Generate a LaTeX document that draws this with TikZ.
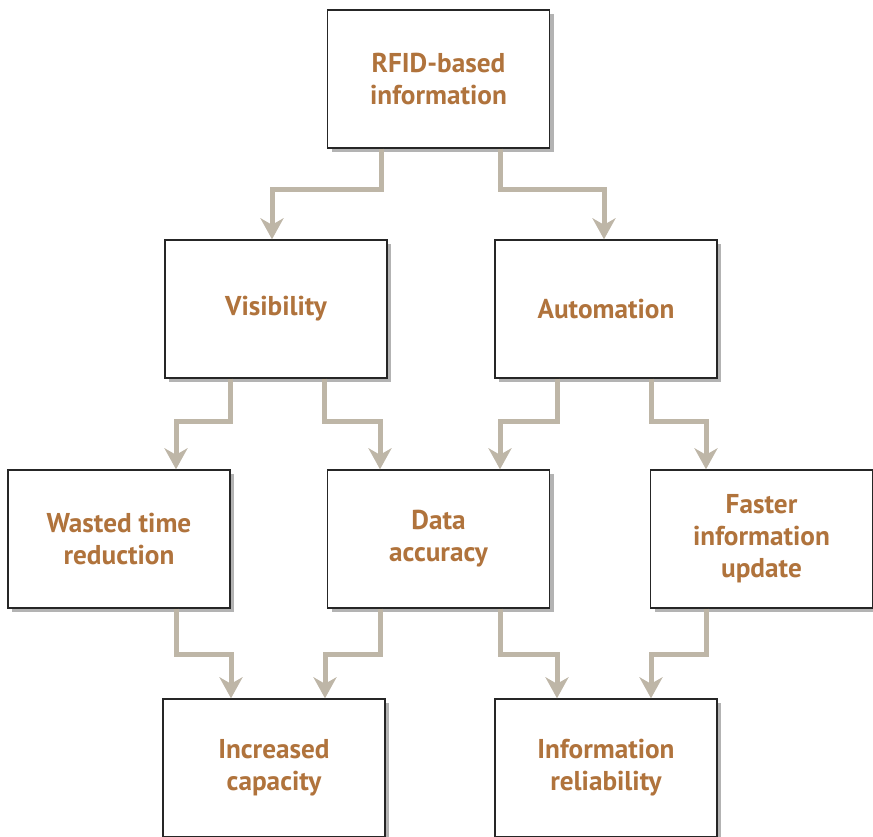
\documentclass[tikz,border=0pt]{standalone}
\usepackage{fontspec}
\setmainfont{PT Sans}
\usetikzlibrary{arrows.meta,shadows,calc}
\definecolor{txtbrown}{RGB}{176,115,60}
\definecolor{linkgray}{RGB}{190,182,167}
\begin{document}
\begin{tikzpicture}[x=0.02cm,y=-0.02cm,
	box/.style={rectangle,draw=black!85,line width=0.8pt,fill=white,minimum width=4.44cm,minimum height=2.76cm,inner sep=0pt,align=center,text=txtbrown,font=\fontsize{15.5}{18.3}\selectfont\bfseries,drop shadow={shadow xshift=2.5pt,shadow yshift=-2.5pt,opacity=0.6}},
	link/.style={draw=linkgray,line width=0.1cm,-{Stealth[length=0.42cm,width=0.46cm,inset=0.13cm]}}]
	\useasboundingbox (0,0) rectangle (873,837);
	\node[box] (rfid) at (438.5,79) {RFID-based\\information};
	\node[box] (vis) at (276,309) {Visibility};
	\node[box] (auto) at (606,309) {Automation};
	\node[box] (wasted) at (119,539) {Wasted time\\reduction};
	\node[box] (data) at (438.5,539) {Data\\accuracy};
	\node[box] (faster) at (761.5,539) {Faster\\information\\update};
	\node[box] (capac) at (274,768) {Increased\\capacity};
	\node[box] (reliab) at (606,768) {Information\\reliability};
	% first level
	\path[link] ($(rfid.south)+(-57.5,0)$) |- ($(vis.north)+(-4,-50)$) -- ($(vis.north)+(-4,0)$);
	\path[link] ($(rfid.south)+(61.5,0)$) |- ($(auto.north)+(-2,-50)$) -- ($(auto.north)+(-2,0)$);
	% second level
	\path[link] ($(vis.south)+(-46,0)$) |- ($(wasted.north)+(57,-48)$) -- ($(wasted.north)+(57,0)$);
	\path[link] ($(vis.south)+(48,0)$) |- ($(data.north)+(-58.5,-48)$) -- ($(data.north)+(-58.5,0)$);
	\path[link] ($(auto.south)+(-49,0)$) |- ($(data.north)+(61.5,-48)$) -- ($(data.north)+(61.5,0)$);
	\path[link] ($(auto.south)+(45,0)$) |- ($(faster.north)+(-55.5,-48)$) -- ($(faster.north)+(-55.5,0)$);
	% third level
	\path[link] ($(wasted.south)+(57,0)$) |- ($(capac.north)+(-43,-44)$) -- ($(capac.north)+(-43,0)$);
	\path[link] ($(data.south)+(-58.5,0)$) |- ($(capac.north)+(51,-44)$) -- ($(capac.north)+(51,0)$);
	\path[link] ($(data.south)+(61.5,0)$) |- ($(reliab.north)+(-49,-44)$) -- ($(reliab.north)+(-49,0)$);
	\path[link] ($(faster.south)+(-55.5,0)$) |- ($(reliab.north)+(45,-44)$) -- ($(reliab.north)+(45,0)$);
\end{tikzpicture}
\end{document}
